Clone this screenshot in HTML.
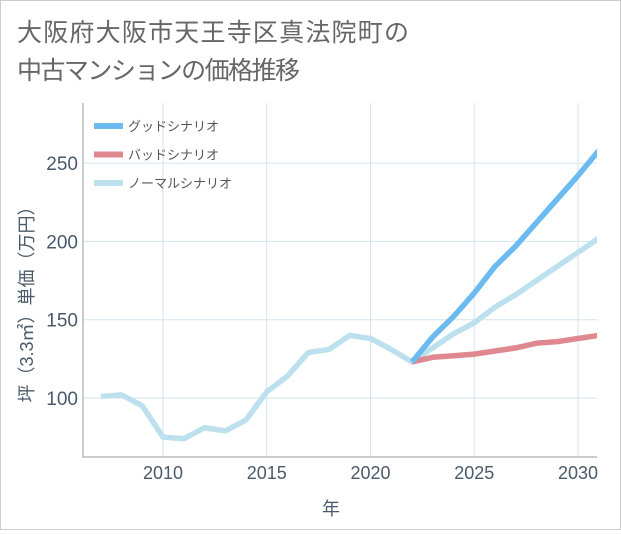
<!DOCTYPE html>
<html><head><meta charset="utf-8"><style>
body{margin:0;background:#fff;}
svg text{font-family:"Liberation Sans","Noto Sans CJK JP",sans-serif;}
</style></head><body>
<svg id="c" width="621" height="530" xmlns="http://www.w3.org/2000/svg">
<defs><clipPath id="pc"><rect x="83" y="103" width="514" height="354"/></clipPath></defs>
<rect x="0.5" y="0.5" width="620" height="529" fill="#fff" stroke="#ccc"/>
<text x="17" y="41" font-size="25" fill="#666" textLength="392">大阪府大阪市天王寺区真法院町の</text>
<text x="17" y="79" font-size="25" fill="#666" textLength="283">中古マンションの価格推移</text>
<g id="grid"></g>
<g id="marks" clip-path="url(#pc)"></g>
<g id="axes"></g>
</svg>
<script>
const years=[2007,2008,2009,2010,2011,2012,2013,2014,2015,2016,2017,2018,2019,2020,2021,2022,2023,2024,2025,2026,2027,2028,2029,2030,2031];
const normalVals=[101,102,95,75,74,81,79,86,104,114,129,131,140,138,131,123,132,141,148,158,166,175,184,193,202];
const futureYears=[2022,2023,2024,2025,2026,2027,2028,2029,2030,2031];
const goodVals=[123,139,152,167,184,197,212,227,242,258];
const badVals=[123,126,127,128,130,132,135,136,138,140];
const xTicks=[2010,2015,2020,2025,2030];
const yTicks=[100,150,200,250];
const seriesNames=["グッドシナリオ","バッドシナリオ","ノーマルシナリオ"];
const L=83,R=597,T=103,B=457;
const xS=v=>163+(v-2010)*20.75;
const yS=v=>398-(v-100)*1.566;
const ns="http://www.w3.org/2000/svg";
function mk(tag,attrs,parent){const e=document.createElementNS(ns,tag);for(const k in attrs)e.setAttribute(k,attrs[k]);document.getElementById(parent).appendChild(e);return e;}
xTicks.forEach(t=>{const l=mk('line',{x1:xS(t),x2:xS(t),y1:T,y2:B,stroke:'#d5e3ee'},'grid');


const tx=mk('text',{x:xS(t),y:479,'font-size':18,fill:'#4a5a6a','text-anchor':'middle'},'axes');tx.textContent=t;

});
yTicks.forEach(t=>{const l=mk('line',{x1:L,x2:R,y1:yS(t),y2:yS(t),stroke:'#d5e3ee'},'grid');


const tx=mk('text',{x:78,y:yS(t)+7,'font-size':19,fill:'#4a5a6a','text-anchor':'end'},'axes');tx.textContent=t;

});
const ax=mk('path',{d:`M${L} ${T}V${B}H${R}`,fill:'none',stroke:'#999'},'axes');


function line(xs,vs,color,name){const d=xs.map((x,i)=>(i?'L':'M')+xS(x)+' '+yS(vs[i])).join('');
const p=mk('path',{d,fill:'none',stroke:color,'stroke-width':5.5,'stroke-linejoin':'round'},'marks');

}
line(years,normalVals,'#bde0ef','normal-line');
line(futureYears,badVals,'#e08890','bad-line');
line(futureYears,goodVals,'#6bbbf0','good-line');
const lc=['#6bbbf0','#e08890','#bde0ef'];
seriesNames.forEach((n,i)=>{const y=126+i*28.5;
const r=mk('rect',{x:94,y:y-3,width:29,height:6,fill:lc[i]},'axes');


const t=mk('text',{x:128,y:y+5,'font-size':13,fill:'#555'},'axes');t.textContent=n;

});
const yt=mk('text',{x:0,y:0,'font-size':18,fill:'#4a5a6a','text-anchor':'middle',transform:'translate(33,300) rotate(-90)'},'axes');yt.textContent='坪（3.3㎡）単価（万円）';


const xt=mk('text',{x:331,y:515,'font-size':18,fill:'#4a5a6a','text-anchor':'middle'},'axes');xt.textContent='年';


</script>
</body></html>
